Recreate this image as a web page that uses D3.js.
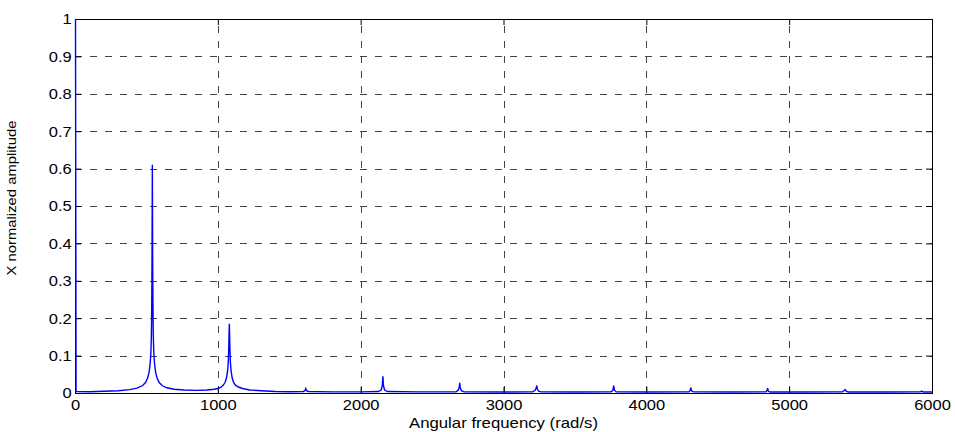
<!DOCTYPE html>
<html>
<head>
<meta charset="utf-8">
<script src="https://cdn.jsdelivr.net/npm/d3@7"></script>
<style>
  body { margin: 0; background: #fff; }
  svg { display: block; font-family: Arial, 'Liberation Sans', sans-serif; }
</style>
</head>
<body>
<div class="chart"></div>
<script>
'use strict';

// spectrum (rad/s, normalized amplitude)
const freq = [
  0, 4, 100, 200, 300, 380, 430, 470, 490, 505, 515, 523, 528, 531, 533, 535, 536, 537, 538,
  539, 540, 541, 543, 545, 548, 553, 561, 571, 586, 606, 640, 690, 760, 850, 920, 970,
  1000, 1020, 1035, 1047, 1057, 1065, 1070, 1073, 1075, 1077, 1079, 1081, 1084, 1089, 1097,
  1107, 1120, 1140, 1170, 1220, 1300, 1400, 1500, 1595, 1606, 1612, 1618, 1630, 1800, 2000,
  2120, 2140, 2148, 2152, 2156, 2164, 2185, 2400, 2665, 2680, 2687, 2690, 2694, 2702, 2720,
  3000, 3200, 3218, 3225, 3230, 3234, 3242, 3260, 3500, 3750, 3762, 3768, 3773, 3785, 4000,
  4295, 4303, 4308, 4313, 4325, 4600, 4835, 4842, 4846, 4850, 4862, 5100, 5370, 5380, 5388,
  5396, 5410, 5700, 5915, 5925, 5935, 6000
];
const amp = [
  1.0, 0.004, 0.0035, 0.0045, 0.006, 0.009, 0.013, 0.02, 0.028, 0.04, 0.055, 0.08, 0.11, 0.15, 0.2, 0.3, 0.38, 0.5, 0.61,
  0.5, 0.38, 0.3, 0.2, 0.15, 0.11, 0.08, 0.055, 0.04, 0.028, 0.02, 0.014, 0.01, 0.008, 0.007, 0.008, 0.01,
  0.012, 0.016, 0.021, 0.028, 0.04, 0.06, 0.085, 0.12, 0.155, 0.185, 0.155, 0.12, 0.085, 0.06, 0.04,
  0.028, 0.021, 0.016, 0.012, 0.008, 0.006, 0.004, 0.0035, 0.004, 0.006, 0.012, 0.006, 0.004, 0.003, 0.003,
  0.004, 0.008, 0.02, 0.045, 0.02, 0.008, 0.004, 0.003, 0.003, 0.008, 0.016, 0.027, 0.014, 0.006, 0.003,
  0.0025, 0.003, 0.007, 0.013, 0.02, 0.01, 0.005, 0.003, 0.0025, 0.003, 0.007, 0.02, 0.008, 0.003, 0.0025,
  0.003, 0.007, 0.014, 0.006, 0.003, 0.0025, 0.003, 0.008, 0.013, 0.005, 0.0025, 0.0025, 0.003, 0.006, 0.009,
  0.005, 0.0025, 0.0025, 0.003, 0.005, 0.0025, 0.0025
];

const xTicks = [0, 1000, 2000, 3000, 4000, 5000, 6000];
const yTicks = [0, 0.1, 0.2, 0.3, 0.4, 0.5, 0.6, 0.7, 0.8, 0.9, 1];

const margin = {
  top: 19,
  right: 23,
  bottom: 39,
  left: 75
};

const FULL_WIDTH = 955;
const FULL_HEIGHT = 432;
const WIDTH = FULL_WIDTH - margin.left - margin.right;
const HEIGHT = FULL_HEIGHT - margin.bottom - margin.top;

const root = d3.select('.chart')
  .append('svg')
    .attr('width', FULL_WIDTH)
    .attr('height', FULL_HEIGHT);

const svg = root.append('g')
    .attr('transform', 'translate(' + margin.left + ',' + margin.top + ')');

const x = d3.scaleLinear()
  .domain([0, 6000])
  .range([0, WIDTH]);

const y = d3.scaleLinear()
  .domain([0, 1])
  .range([HEIGHT, 0]);

// dashed grid
svg.selectAll('.hgrid')
  .data(yTicks.slice(1, -1))
  .enter()
  .append('line')
    .attr('class', 'hgrid')
    .attr('x1', 0)
    .attr('x2', WIDTH)
    .attr('y1', (d) => Math.round(y(d)) + 0.5)
    .attr('y2', (d) => Math.round(y(d)) + 0.5)
    .attr('stroke', '#444')
    .attr('stroke-dasharray', '7,8');

svg.selectAll('.vgrid')
  .data(xTicks.slice(1, -1))
  .enter()
  .append('line')
    .attr('class', 'vgrid')
    .attr('x1', (d) => Math.round(x(d)) + 0.5)
    .attr('x2', (d) => Math.round(x(d)) + 0.5)
    .attr('y1', HEIGHT)
    .attr('y2', 0)
    .attr('stroke', '#444')
    .attr('stroke-dasharray', '7,8');

// axes, ticks inside like matlab
const fmt = d3.format('');

function styleAxis(g) {
  g.select('.domain').remove();
  g.selectAll('.tick line').attr('stroke', '#000');
  g.selectAll('.tick text')
    .attr('fill', '#000')
    .attr('font-size', 15);
}

svg.append('g')
    .attr('transform', 'translate(0,' + HEIGHT + ')')
    .call(d3.axisBottom(x).tickValues(xTicks).tickFormat(fmt).tickSize(-6).tickPadding(6))
    .call(styleAxis)
    .call((g) => g.selectAll('.tick text').attr('transform', 'scale(1.1,1)'));

svg.append('g')
    .call(d3.axisLeft(y).tickValues(yTicks).tickFormat(fmt).tickSize(-6).tickPadding(3))
    .call(styleAxis)
    .call((g) => g.selectAll('.tick text').attr('transform', 'scale(1.1,1)'));

svg.append('g')
    .call(d3.axisTop(x).tickValues(xTicks).tickFormat('').tickSize(-6))
    .call(styleAxis);

svg.append('g')
    .attr('transform', 'translate(' + WIDTH + ',0)')
    .call(d3.axisRight(y).tickValues(yTicks).tickFormat('').tickSize(-6))
    .call(styleAxis);

svg.append('rect')
    .attr('x', 0.5)
    .attr('y', 0.5)
    .attr('width', WIDTH)
    .attr('height', HEIGHT)
    .attr('fill', 'none')
    .attr('stroke', '#000');

// spectrum, drawn over the frame
svg.append('clipPath')
    .attr('id', 'clip')
  .append('rect')
    .attr('x', -2)
    .attr('width', WIDTH + 2)
    .attr('height', HEIGHT);

const points = freq.map((f, i) => [f, amp[i]]);

svg.append('path')
  .datum(points)
    .attr('clip-path', 'url(#clip)')
    .attr('fill', 'none')
    .attr('stroke', '#0000ff')
    .attr('stroke-width', 1.4)
    .attr('d', d3.line()
      .x((d) => x(d[0]) + 0.5)
      .y((d) => y(d[1])));

// titles
root.append('text')
    .attr('x', margin.left + x(3000))
    .attr('y', 428)
    .attr('text-anchor', 'middle')
    .attr('font-size', 15)
    .attr('textLength', 189)
    .attr('lengthAdjust', 'spacingAndGlyphs')
    .text('Angular frequency (rad/s)');

root.append('text')
    .attr('transform', 'translate(16,198) rotate(-90)')
    .attr('text-anchor', 'middle')
    .attr('font-size', 13)
    .attr('textLength', 155)
    .attr('lengthAdjust', 'spacingAndGlyphs')
    .text('X normalized amplitude');
</script>
</body>
</html>
